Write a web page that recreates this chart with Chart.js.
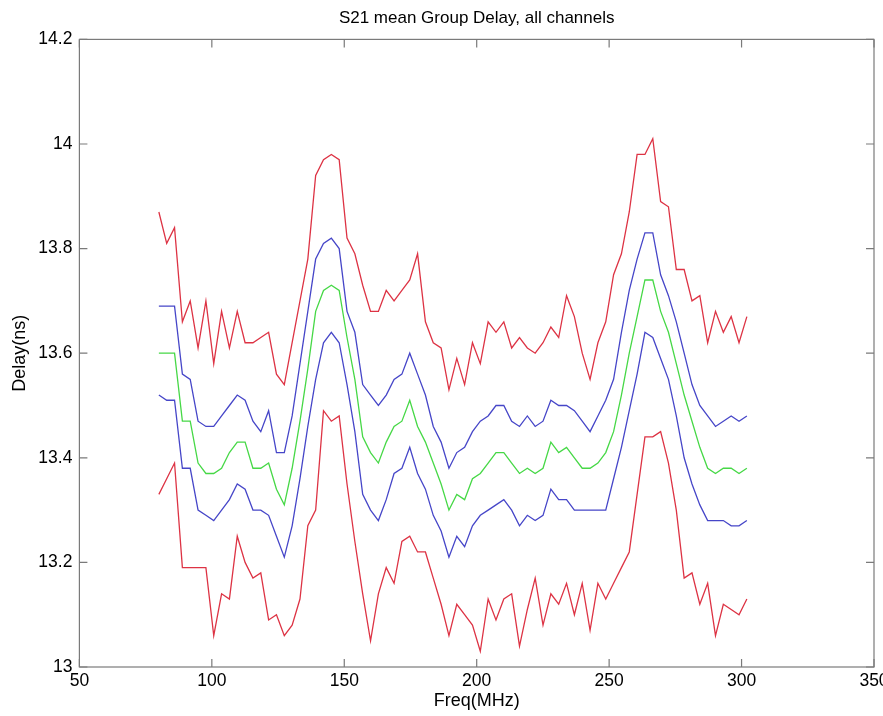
<!DOCTYPE html>
<html lang="en">
<head>
<meta charset="utf-8">
<title>S21 mean Group Delay, all channels</title>
<script src="https://cdn.jsdelivr.net/npm/chart.js@4/dist/chart.umd.min.js"></script>
<style>
  html, body { margin: 0; padding: 0; background: #fff; }
  #wrap { width: 883px; height: 716px; position: relative; }
</style>
</head>
<body>
<div id="wrap"><canvas id="delayChart"></canvas></div>
<script>
/* ===================================================
   S21 GROUP DELAY PLOT
   =================================================== */

// ── DATA ──────────────────────────────────────────
const freq = [
  80.00, 82.96, 85.92, 88.88, 91.84, 94.80, 97.76, 100.72, 103.68, 106.64,
  109.60, 112.56, 115.52, 118.48, 121.44, 124.40, 127.36, 130.32, 133.28, 136.24,
  139.20, 142.16, 145.12, 148.08, 151.04, 154.00, 156.96, 159.92, 162.88, 165.84,
  168.80, 171.76, 174.72, 177.68, 180.64, 183.60, 186.56, 189.52, 192.48, 195.44,
  198.40, 201.36, 204.32, 207.28, 210.24, 213.20, 216.16, 219.12, 222.08, 225.04,
  228.00, 230.96, 233.92, 236.88, 239.84, 242.80, 245.76, 248.72, 251.68, 254.64,
  257.60, 260.56, 263.52, 266.48, 269.44, 272.40, 275.36, 278.32, 281.28, 284.24,
  287.20, 290.16, 293.12, 296.08, 299.04, 302.00,
];

const upperRed = [
  13.87, 13.81, 13.84, 13.66, 13.70, 13.61, 13.70, 13.58, 13.68, 13.61,
  13.68, 13.62, 13.62, 13.63, 13.64, 13.56, 13.54, 13.62, 13.70, 13.78,
  13.94, 13.97, 13.98, 13.97, 13.82, 13.79, 13.73, 13.68, 13.68, 13.72,
  13.70, 13.72, 13.74, 13.79, 13.66, 13.62, 13.61, 13.53, 13.59, 13.54,
  13.62, 13.58, 13.66, 13.64, 13.66, 13.61, 13.63, 13.61, 13.60, 13.62,
  13.65, 13.63, 13.71, 13.67, 13.60, 13.55, 13.62, 13.66, 13.75, 13.79,
  13.87, 13.98, 13.98, 14.01, 13.89, 13.88, 13.76, 13.76, 13.70, 13.71,
  13.62, 13.68, 13.64, 13.67, 13.62, 13.67,
];

const upperBlue = [
  13.69, 13.69, 13.69, 13.56, 13.55, 13.47, 13.46, 13.46, 13.48, 13.50,
  13.52, 13.51, 13.47, 13.45, 13.49, 13.41, 13.41, 13.48, 13.58, 13.68,
  13.78, 13.81, 13.82, 13.80, 13.68, 13.64, 13.54, 13.52, 13.50, 13.52,
  13.55, 13.56, 13.60, 13.56, 13.52, 13.46, 13.43, 13.38, 13.41, 13.42,
  13.45, 13.47, 13.48, 13.50, 13.50, 13.47, 13.46, 13.48, 13.46, 13.47,
  13.51, 13.50, 13.50, 13.49, 13.47, 13.45, 13.48, 13.51, 13.55, 13.64,
  13.72, 13.78, 13.83, 13.83, 13.75, 13.71, 13.66, 13.60, 13.54, 13.50,
  13.48, 13.46, 13.47, 13.48, 13.47, 13.48,
];

const meanGreen = [
  13.60, 13.60, 13.60, 13.47, 13.47, 13.39, 13.37, 13.37, 13.38, 13.41,
  13.43, 13.43, 13.38, 13.38, 13.39, 13.34, 13.31, 13.38, 13.47, 13.57,
  13.68, 13.72, 13.73, 13.72, 13.63, 13.55, 13.44, 13.41, 13.39, 13.43,
  13.46, 13.47, 13.51, 13.46, 13.43, 13.39, 13.35, 13.30, 13.33, 13.32,
  13.36, 13.37, 13.39, 13.41, 13.41, 13.39, 13.37, 13.38, 13.37, 13.38,
  13.43, 13.41, 13.42, 13.40, 13.38, 13.38, 13.39, 13.41, 13.45, 13.52,
  13.60, 13.67, 13.74, 13.74, 13.68, 13.64, 13.58, 13.52, 13.47, 13.42,
  13.38, 13.37, 13.38, 13.38, 13.37, 13.38,
];

const lowerBlue = [
  13.52, 13.51, 13.51, 13.38, 13.38, 13.30, 13.29, 13.28, 13.30, 13.32,
  13.35, 13.34, 13.30, 13.30, 13.29, 13.25, 13.21, 13.27, 13.36, 13.46,
  13.55, 13.62, 13.64, 13.62, 13.54, 13.45, 13.33, 13.30, 13.28, 13.32,
  13.37, 13.38, 13.42, 13.37, 13.34, 13.29, 13.26, 13.21, 13.25, 13.23,
  13.27, 13.29, 13.30, 13.31, 13.32, 13.30, 13.27, 13.29, 13.28, 13.29,
  13.34, 13.32, 13.32, 13.30, 13.30, 13.30, 13.30, 13.30, 13.36, 13.42,
  13.49, 13.56, 13.64, 13.63, 13.59, 13.55, 13.48, 13.40, 13.35, 13.31,
  13.28, 13.28, 13.28, 13.27, 13.27, 13.28,
];

const lowerRed = [
  13.33, 13.36, 13.39, 13.19, 13.19, 13.19, 13.19, 13.06, 13.14, 13.13,
  13.25, 13.20, 13.17, 13.18, 13.09, 13.10, 13.06, 13.08, 13.13, 13.27,
  13.30, 13.49, 13.47, 13.48, 13.35, 13.24, 13.14, 13.05, 13.14, 13.19,
  13.16, 13.24, 13.25, 13.22, 13.22, 13.17, 13.12, 13.06, 13.12, 13.10,
  13.08, 13.03, 13.13, 13.09, 13.13, 13.14, 13.04, 13.11, 13.17, 13.08,
  13.14, 13.12, 13.16, 13.10, 13.16, 13.07, 13.16, 13.13, 13.16, 13.19,
  13.22, 13.33, 13.44, 13.44, 13.45, 13.39, 13.30, 13.17, 13.18, 13.12,
  13.16, 13.06, 13.12, 13.11, 13.10, 13.13,
];

const xTicks = [50, 100, 150, 200, 250, 300, 350];
const yTicks = [13, 13.2, 13.4, 13.6, 13.8, 14, 14.2];

// ── STYLE ─────────────────────────────────────────
const FONT = "'Liberation Sans', Arial, Helvetica, sans-serif";
const AXIS_COLOR = '#7a7a7a';
const TICK_LEN = 8;

const COLORS = {
  red:   '#dd3344',
  blue:  '#4646c8',
  green: '#46d846',
};

function series(label, values, color) {
  return {
    label,
    data: freq.map((f, i) => ({ x: f, y: values[i] })),
    borderColor: color,
    backgroundColor: color,
    borderWidth: 1.3,
    pointRadius: 0,
    fill: false,
    tension: 0,
  };
}

// matlab-ish box with inward ticks on all four sides
const axesBox = {
  id: 'axesBox',
  afterDraw(chart) {
    const { ctx, chartArea: a, scales: { x, y } } = chart;
    ctx.save();
    ctx.strokeStyle = AXIS_COLOR;
    ctx.lineWidth = 1.2;
    ctx.strokeRect(a.left, a.top, a.right - a.left, a.bottom - a.top);
    ctx.beginPath();
    xTicks.forEach(v => {
      const px = x.getPixelForValue(v);
      ctx.moveTo(px, a.bottom); ctx.lineTo(px, a.bottom - TICK_LEN);
      ctx.moveTo(px, a.top);    ctx.lineTo(px, a.top + TICK_LEN);
    });
    yTicks.forEach(v => {
      const py = y.getPixelForValue(v);
      ctx.moveTo(a.left, py);  ctx.lineTo(a.left + TICK_LEN, py);
      ctx.moveTo(a.right, py); ctx.lineTo(a.right - TICK_LEN, py);
    });
    ctx.stroke();
    ctx.restore();
  },
};

// ── CHART ─────────────────────────────────────────
const ctx = document.getElementById('delayChart').getContext('2d');

new Chart(ctx, {
  type: 'line',
  data: {
    datasets: [
      series('upper red',  upperRed,  COLORS.red),
      series('upper blue', upperBlue, COLORS.blue),
      series('mean',       meanGreen, COLORS.green),
      series('lower blue', lowerBlue, COLORS.blue),
      series('lower red',  lowerRed,  COLORS.red),
    ],
  },
  options: {
    responsive: true,
    maintainAspectRatio: false,
    devicePixelRatio: 1,
    animation: false,
    events: [],
    layout: { padding: { left: 0, right: 9, top: 0, bottom: 0 } },
    plugins: {
      legend: { display: false },
      tooltip: { enabled: false },
      title: {
        display: true,
        text: 'S21 mean Group Delay, all channels',
        color: '#000',
        fullSize: false,
        font: { family: FONT, size: 17, weight: 'normal' },
        padding: { top: 8.5, bottom: 10.5 },
      },
    },
    scales: {
      x: {
        type: 'linear',
        min: 50,
        max: 350,
        afterBuildTicks: s => { s.ticks = xTicks.map(v => ({ value: v })); },
        afterFit: s => { s.height = 49; s.paddingLeft = 0; s.paddingRight = 0; },
        grid: { display: false, drawTicks: false },
        border: { display: false },
        ticks: {
          color: '#000',
          padding: 4,
          maxRotation: 0,
          autoSkip: false,
          font: { family: FONT, size: 17.5 },
          callback: v => String(v),
        },
        title: {
          display: true,
          text: 'Freq(MHz)',
          color: '#000',
          font: { family: FONT, size: 18 },
          padding: { top: 0, bottom: 4 },
        },
      },
      y: {
        type: 'linear',
        min: 13,
        max: 14.2,
        afterBuildTicks: s => { s.ticks = yTicks.map(v => ({ value: v })); },
        afterFit: s => { s.width = 79.4; s.paddingTop = 0; s.paddingBottom = 0; },
        grid: { display: false, drawTicks: false },
        border: { display: false },
        ticks: {
          color: '#000',
          padding: 7,
          autoSkip: false,
          font: { family: FONT, size: 17.5 },
          callback: v => String(v),
        },
        title: {
          display: true,
          text: 'Delay(ns)',
          color: '#000',
          font: { family: FONT, size: 18 },
          padding: { top: 9, bottom: 0 },
        },
      },
    },
  },
  plugins: [axesBox],
});
</script>
</body>
</html>
